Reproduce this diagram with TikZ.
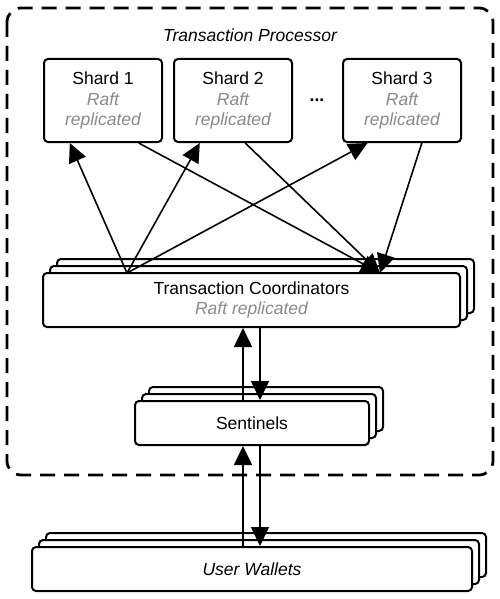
\documentclass[tikz,border=0pt]{standalone}
\usepackage{fontspec}
\setmainfont{Liberation Sans}
\usetikzlibrary{arrows.meta,shadows}
\definecolor{raftgray}{HTML}{8A8A8A}
\newcommand{\raftnote}[1]{{\color{raftgray}\itshape #1}}
\begin{document}
\begin{tikzpicture}[x=1pt, y=-1pt,
		box/.style={draw, line width=2pt, rounded corners=4pt, fill=white, align=center, inner sep=0pt, font=\fontsize{17.5}{20.5}\selectfont},
		stack/.style={box, copy shadow={shadow xshift=14pt, shadow yshift=14pt}, copy shadow={shadow xshift=7pt, shadow yshift=7pt}},
		arr/.style={-{Triangle[length=19pt,width=18pt]}, line width=1.6pt}]
		\useasboundingbox (0,0) rectangle (500,599);
		% transaction processor
		\draw [line width=2.8pt, dash pattern=on 15pt off 9pt, rounded corners=14pt] (7,8) rectangle (493,475);
		\node (title) at (250,35) {\fontsize{17.5}{20.5}\selectfont\itshape Transaction Processor};
		\node[box, minimum width=118pt, minimum height=83pt] (shard1) at (103,100.5) {Shard 1\\\raftnote{Raft}\\\raftnote{replicated}};
		\node[box, minimum width=118pt, minimum height=83pt] (shard2) at (233,100.5) {Shard 2\\\raftnote{Raft}\\\raftnote{replicated}};
		\node[box, minimum width=118pt, minimum height=83pt] (shard3) at (402,100.5) {Shard 3\\\raftnote{Raft}\\\raftnote{replicated}};
		\node (dots) at (317,100) {\fontsize{17.5}{20.5}\selectfont\textbf{...}};
		\node[stack, minimum width=417pt, minimum height=54pt] (tc) at (251.5,300) {Transaction Coordinators\\\raftnote{Raft replicated}};
		\node[stack, minimum width=234pt, minimum height=44pt] (sent) at (252,423) {Sentinels};
		\node[stack, minimum width=440pt, minimum height=44pt] (uw) at (252,569) {\itshape User Wallets};
		\coordinate (tcL) at (127,273);
		\coordinate (tcR) at (380,273);
		% coordinators and shards
		\draw[arr] (tcL) -- (shard1.-128);
		\draw[arr] (tcL) -- (shard2.-128);
		\draw[arr] (tcL) -- (shard3.-129);
		\draw[arr] (shard1.-50) -- (tcR);
		\draw[arr] (shard2.-74) -- (tcR);
		\draw[arr] (shard3.-65) -- (tcR);
		% sentinels
		\draw[arr] ([xshift=-9pt]sent.north) -- ([xshift=-9pt]sent.north |- tc.south);
		\draw[arr] ([xshift=8pt]sent.north |- tc.south) -- ([xshift=8pt]sent.north);
		\draw[arr] ([xshift=-9pt]sent.south |- uw.north) -- ([xshift=-9pt]sent.south);
		\draw[arr] ([xshift=8pt]sent.south) -- ([xshift=8pt]sent.south |- uw.north);
	\end{tikzpicture}
\end{document}
